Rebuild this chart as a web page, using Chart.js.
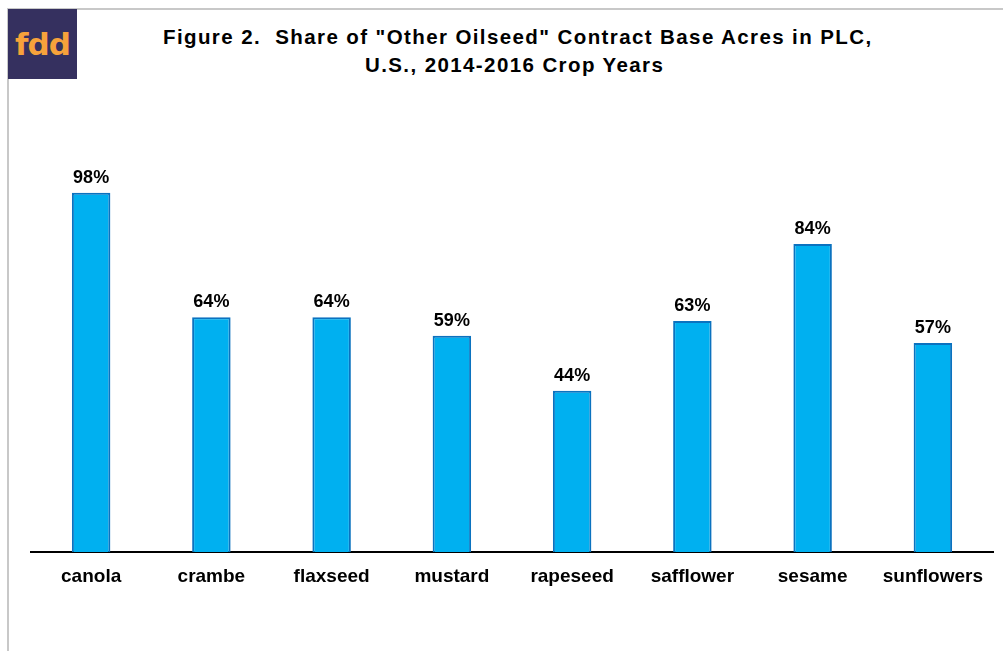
<!DOCTYPE html>
<html>
<head>
<meta charset="utf-8">
<script src="https://cdn.jsdelivr.net/npm/chart.js@4"></script>
<style>
    body { margin: 0; background: #fff; font-family: "Liberation Sans", Arial, sans-serif; }
    #wrap { position: relative; width: 1003px; height: 651px; overflow: hidden; }
    #frame { position: absolute; left: 7px; top: 8px; width: 1000px; height: 700px;
             border-top: 2px solid #c8c8c8; border-left: 2px solid #c8c8c8; }
    #logo { position: absolute; left: 8px; top: 9px; width: 69px; height: 70px; background: #35305f;
            color: #f7a23b; font: bold 31px "DejaVu Sans", sans-serif; text-align: center; line-height: 70px;
            letter-spacing: -1px; }
    .title { position: absolute; font-weight: bold; font-size: 20.5px; line-height: 24px; letter-spacing: 1.4px;
             color: #000; white-space: pre; }
    #chart { position: absolute; left: 0; top: 0; }
</style>
</head>
<body>
<div id="wrap">
    <div id="frame"></div>
    <div id="logo">fdd</div>
    <div class="title" style="left:163px; top:25px;">Figure 2.  Share of "Other Oilseed" Contract Base Acres in PLC,</div>
    <div class="title" style="left:365px; top:53px;">U.S., 2014-2016 Crop Years</div>
    <canvas id="chart" width="1003" height="651"></canvas>
</div>
<script>
const crops = ['canola', 'crambe', 'flaxseed', 'mustard', 'rapeseed', 'safflower', 'sesame', 'sunflowers'];
const plcShare = [98, 64, 64, 59, 44, 63, 84, 57];

// percent labels above each bar
const barLabels = {
    id: 'barLabels',
    afterDatasetsDraw(chart) {
        const ctx = chart.ctx;
        const meta = chart.getDatasetMeta(0);
        ctx.save();
        ctx.font = 'bold 18px "Liberation Sans", Arial, sans-serif';
        ctx.fillStyle = '#000';
        ctx.textAlign = 'center';
        ctx.textBaseline = 'alphabetic';
        meta.data.forEach((bar, i) => {
            ctx.fillText(plcShare[i] + '%', bar.x, bar.y - 10);
        });
        ctx.restore();
    }
};

new Chart(document.getElementById('chart'), {
    type: 'bar',
    data: {
        labels: crops,
        datasets: [{
            data: plcShare,
            backgroundColor: '#00b0f0',
            borderColor: '#0b72bf',
            borderWidth: 2,
            barPercentage: 0.32,
            categoryPercentage: 1
        }]
    },
    options: {
        responsive: false,
        animation: false,
        layout: { padding: { left: 31, right: 10, top: 112, bottom: 0 } },
        plugins: { legend: { display: false }, tooltip: { enabled: false } },
        scales: {
            y: { display: false, min: 0, max: 120 },
            x: {
                grid: { display: false, drawTicks: false },
                border: { display: true, color: '#000', width: 2 },
                ticks: {
                    color: '#000',
                    padding: 13,
                    font: { family: '"Liberation Sans", Arial, sans-serif', size: 19, weight: 'bold' }
                },
                afterFit(scale) { scale.height = 99; }
            }
        }
    },
    plugins: [barLabels]
});
</script>
</body>
</html>
